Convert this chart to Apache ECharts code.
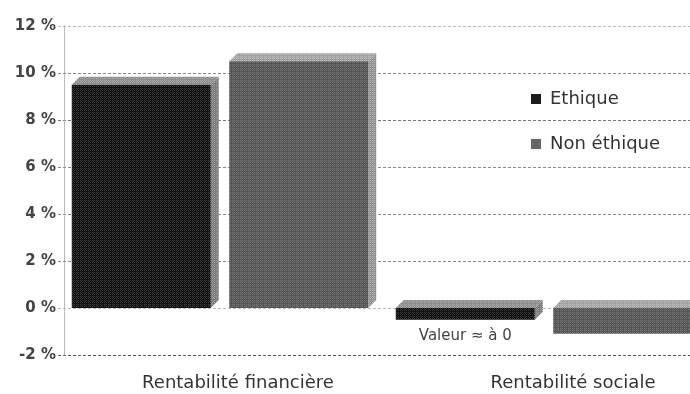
<!DOCTYPE html>
<html>
<head>
<meta charset="utf-8">
<script src="https://cdn.jsdelivr.net/npm/echarts@6/dist/echarts.min.js"></script>
<style>html,body{margin:0;padding:0;background:#fff;overflow:hidden}#c{width:710px;height:394px}</style>
</head>
<body>
<div id="c"></div>
<script>
const categories = ['Rentabilité financière', 'Rentabilité sociale'];
const seriesNames = ['Ethique', 'Non éthique'];
const ethique = [9.5, -0.5];
const nonEthique = [10.5, -1.1];
const notes = ['', 'Valeur ≈ à 0'];
const yTicks = { min: -2, max: 12, interval: 2 };

const font = '"DejaVu Sans", sans-serif';

function makePattern(bg, fg) {
  const c = document.createElement('canvas');
  c.width = 4; c.height = 4;
  const g = c.getContext('2d');
  g.fillStyle = bg; g.fillRect(0, 0, 4, 4);
  g.fillStyle = fg;
  [[0, 0], [2, 0], [1, 1], [0, 2], [2, 2]].forEach(function (p) { g.fillRect(p[0], p[1], 1, 1); });
  return { image: c, repeat: 'repeat' };
}

const styles = [
  { legend: '#1c1c1c', front: makePattern('#111111', '#3a3a3a'), top: makePattern('#8e8e8e', '#a8a8a8'), side: makePattern('#7c7c7c', '#9a9a9a') },
  { legend: '#666666', front: makePattern('#555555', '#747474'), top: makePattern('#a2a2a2', '#bcbcbc'), side: makePattern('#929292', '#b0b0b0') }
];

const BAR_RATIO = 0.429;
const GAP_RATIO = 0.057;
const DEPTH = 8;

function renderBar(params, api) {
  const s = params.seriesIndex;
  const idx = api.value(0);
  const val = api.value(1);
  const catW = api.size([1, 0])[0];
  const barW = catW * BAR_RATIO;
  const gap = catW * GAP_RATIO;
  const base = api.coord([idx, 0]);
  const end = api.coord([idx, val]);
  const x0 = s === 0 ? base[0] - gap / 2 - barW : base[0] + gap / 2;
  const x1 = x0 + barW;
  const yT = Math.min(base[1], end[1]);
  const yB = Math.max(base[1], end[1]);
  const st = styles[s];
  const children = [
    { type: 'polygon', shape: { points: [[x1, yT], [x1 + DEPTH, yT - DEPTH], [x1 + DEPTH, yB - DEPTH], [x1, yB]] }, style: { fill: st.side } },
    { type: 'polygon', shape: { points: [[x0, yT], [x0 + DEPTH, yT - DEPTH], [x1 + DEPTH, yT - DEPTH], [x1, yT]] }, style: { fill: st.top } },
    { type: 'rect', shape: { x: x0, y: yT, width: barW, height: yB - yT }, style: { fill: st.front } }
  ];
  const note = api.value(2);
  if (note) {
    children.push({ type: 'text', x: (x0 + x1) / 2, y: yB + 9, style: { text: note, fill: '#444', font: '15px ' + font, align: 'center', verticalAlign: 'top' } });
  }
  return { type: 'group', children: children };
}

function toData(values) {
  return values.map(function (v, i) { return [i, v, notes[i] && values === ethique ? notes[i] : '']; });
}

const chart = echarts.init(document.getElementById('c'), null, { renderer: 'canvas' });
const option = {
  animation: false,
  legend: {
    orient: 'vertical', left: 526, top: 85, itemGap: 27,
    itemWidth: 10, itemHeight: 10, icon: 'rect',
    textStyle: { fontFamily: font, fontSize: 18, color: '#333', padding: [0, 0, 0, 4] },
    data: seriesNames
  },
  grid: { left: 58, top: 26, right: 4, bottom: 39, show: false },
  xAxis: {
    type: 'category', data: categories,
    axisLine: { show: false }, axisTick: { show: false },
    axisLabel: {
      margin: 19, interval: 0,
      formatter: function (v, i) { return i === 0 ? '{a|' + v + '}' : '{b|' + v + '}'; },
      rich: {
        a: { fontFamily: font, fontSize: 18, color: '#333', padding: [0, 0, 0, 36] },
        b: { fontFamily: font, fontSize: 18, color: '#333', padding: [0, 0, 0, 58] }
      }
    }
  },
  yAxis: {
    type: 'value', min: yTicks.min, max: yTicks.max, interval: yTicks.interval,
    offset: -6,
    axisLine: { show: true, lineStyle: { color: '#aaa', type: 'dotted' } },
    axisTick: { show: false },
    axisLabel: { formatter: '{value} %', fontFamily: font, fontSize: 15, fontWeight: 'bold', color: '#444', margin: 8 },
    splitLine: { show: true, lineStyle: { color: ['#555', '#bbb', '#888', '#888', '#888', '#777', '#888', '#bbb'], type: [3, 2], width: 1 } }
  },
  series: [
    {
      name: seriesNames[0], type: 'custom', renderItem: renderBar,
      itemStyle: { color: styles[0].legend },
      encode: { x: 0, y: 1 },
      data: toData(ethique), z: 3
    },
    {
      name: seriesNames[1], type: 'custom', renderItem: renderBar,
      itemStyle: { color: styles[1].legend },
      encode: { x: 0, y: 1 },
      data: toData(nonEthique), z: 3
    }
  ]
};
chart.setOption(option);
</script>
</body>
</html>
